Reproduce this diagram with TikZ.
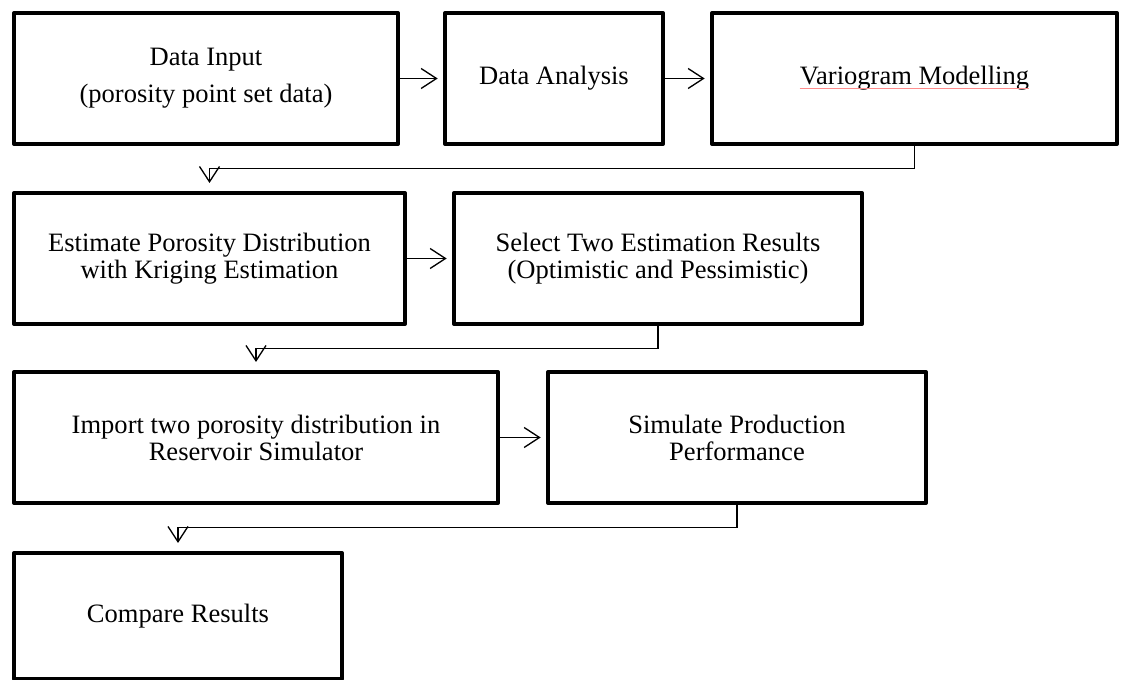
\documentclass[tikz,border=0pt]{standalone}
\usepackage{fontspec}
\setmainfont{Liberation Serif}
\usetikzlibrary{arrows.meta}
\begin{document}
\begin{tikzpicture}[x=0.75pt,y=-0.75pt,
  box/.style={draw, line width=3pt, line join=round, align=center, inner sep=0pt,
    font=\fontsize{19.9}{20.25}\selectfont},
  row/.style={minimum height=98.25pt},
  lbl/.style={inner sep=0pt, align=center, font=\fontsize{19.9}{20.25}\selectfont},
  arr/.style={line width=1pt, -{Straight Barb[length=11.5pt,width=15pt]}},
  spell/.style={draw=red!45, line width=0.5pt}]
\useasboundingbox (0,0) rectangle (1122,680);

% row 1
\node[box, row, minimum width=288pt] (b1) at (206,78.5) {Data Input\\[7.5pt](porosity point set data)};
\node[box, row, minimum width=163.5pt] (b2) at (554,78.5) {Data Analysis};
\node[box, row, minimum width=303.75pt] (b3) at (914.5,78.5) {};
\node[lbl] (v) at (b3.center) {Variogram Modelling};
\draw[spell] ([yshift=-2.6pt]v.base west) -- ([yshift=-2.6pt]v.base east);

% row 2
\node[box, row, minimum width=293.25pt] (b4) at (209.5,258.5) {Estimate Porosity Distribution\\with Kriging Estimation};
\node[box, row, minimum width=306pt] (b5) at (658,258.5) {Select Two Estimation Results\\(Optimistic and Pessimistic)};

% row 3
\node[box, row, minimum width=363pt] (b6) at (256,437.5) {Import two porosity distribution in\\Reservoir Simulator};
\node[box, row, minimum width=283.5pt] (b7) at (737,437.5) {Simulate Production\\Performance};

% row 4
\node[box, minimum width=246pt, minimum height=94.5pt] (b8) at (178,616) {Compare Results};

% connectors
\draw[arr, shorten >=4pt] (b1.east) -- (b2.west);
\draw[arr, shorten >=4pt] (b2.east) -- (b3.west);
\draw[arr, shorten >=6pt] (b3.south) -- ++(0,22.5) -| (b4.north);
\draw[arr, shorten >=4pt] (b4.east) -- (b5.west);
\draw[arr, shorten >=6pt] (b5.south) -- ++(0,22.5) -| (b6.north);
\draw[arr, shorten >=4pt] (b6.east) -- (b7.west);
\draw[arr, shorten >=6pt] (b7.south) -- ++(0,22.5) -| (b8.north);
\end{tikzpicture}
\end{document}
